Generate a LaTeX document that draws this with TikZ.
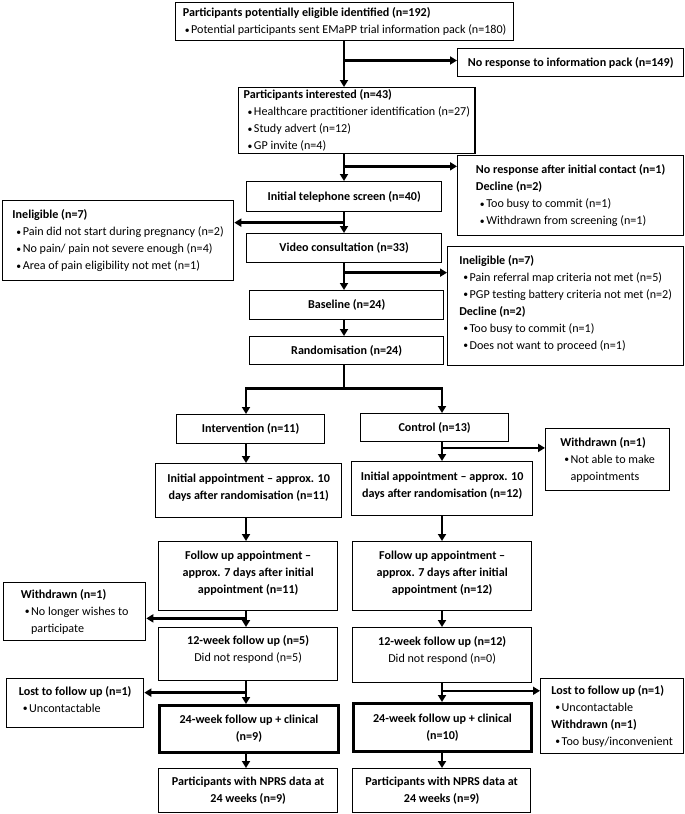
\documentclass[tikz,border=0pt]{standalone}
\usepackage{fontspec}
\setmainfont{Carlito}
\usepackage{graphicx}
\usetikzlibrary{arrows.meta,calc}
\newcommand{\bul}{\hspace*{4pt}\raisebox{0.3pt}{\scalebox{0.8}{\textbullet}}\hspace{1.5pt}}
\newcommand{\bulsp}{\phantom{\bul}}
\newcommand{\lift}{\\[-9pt]\mbox{}}
\begin{document}
\begin{tikzpicture}[x=1pt,y=-1pt,
  every node/.style={font=\fontsize{12.1}{17}\selectfont},
  box/.style={draw, line width=1.3pt, rectangle, anchor=north west, inner xsep=5pt, inner ysep=2pt, align=left},
  cbox/.style={box, align=center},
  tbox/.style={cbox, line width=3pt},
  conn/.style={line width=2.5pt, -{Triangle[length=7pt,width=8pt]}},
  trunk/.style={line width=2.5pt}]
\useasboundingbox (0,0) rectangle (685,814);

% boxes
\node[box, minimum width=338pt, minimum height=38pt] (A) at (175,2)
  {\textbf{Participants potentially eligible identified (n=192)}\\
   \hspace*{-2pt}\bul Potential participants sent EMaPP trial information pack (n=180)};
\node[cbox, minimum width=226pt, minimum height=28pt] (NR1) at (457,48)
  {\textbf{No response to information pack (n=149)}};
\node[box, minimum width=217pt, minimum height=66pt] (B) at (238,87)
  {\textbf{Participants interested (n=43)}\\
   \bul Healthcare practitioner identification (n=27)\\
   \bul Study advert (n=12)\\
   \bul GP invite (n=4)};
\node[box, minimum width=226pt, minimum height=80pt] (D1) at (457,155)
  {\textbf{No response after initial contact (n=1)}\\
   \textbf{Decline (n=2)}\\
   \bul Too busy to commit (n=1)\\
   \bul Withdrawn from screening (n=1)};
\node[cbox, minimum width=195pt, minimum height=30pt] (C) at (246,181)
  {\textbf{Initial telephone screen (n=40)}};
\node[box, minimum width=231pt, minimum height=80pt] (Inel1) at (2,200)
  {\textbf{Ineligible (n=7)}\\
   \bul Pain did not start during pregnancy (n=2)\\
   \bul No pain/ pain not severe enough (n=4)\\
   \bul Area of pain eligibility not met (n=1)};
\node[cbox, minimum width=195pt, minimum height=29pt] (E) at (246,233)
  {\textbf{Video consultation (n=33)}};
\node[box, minimum width=236pt, minimum height=119pt] (Inel2) at (447,246)
  {\textbf{Ineligible (n=7)}\\
   \bul Pain referral map criteria not met (n=5)\\
   \bul PGP testing battery criteria not met (n=2)\\
   \textbf{Decline (n=2)}\\
   \bul Too busy to commit (n=1)\\
   \bul Does not want to proceed (n=1)\lift};
\node[cbox, minimum width=194pt, minimum height=29pt] (F) at (249,290)
  {\textbf{Baseline (n=24)}};
\node[cbox, minimum width=194pt, minimum height=28pt] (G) at (249,336)
  {\textbf{Randomisation (n=24)}};
\node[cbox, minimum width=148pt, minimum height=29pt] (H1) at (176,414)
  {\textbf{Intervention (n=11)}};
\node[cbox, minimum width=148pt, minimum height=28pt] (H2) at (360,413)
  {\textbf{Control (n=13)}};
\node[box, minimum width=124pt, minimum height=62pt] (WC) at (545,428)
  {\textbf{Withdrawn (n=1)}\\
   \bul Not able to make\\
   \bulsp appointments};
\node[cbox, minimum width=186pt, minimum height=54pt] (I1) at (155,463)
  {\textbf{Initial appointment -- approx. 10}\\
   \textbf{days after randomisation (n=11)}\lift};
\node[cbox, minimum width=181pt, minimum height=54pt] (I2) at (351,461)
  {\textbf{Initial appointment -- approx. 10}\\
   \textbf{days after randomisation (n=12)}\lift};
\node[cbox, minimum width=179pt, minimum height=69pt] (J1) at (158,541)
  {\textbf{Follow up appointment --}\\
   \textbf{approx. 7 days after initial}\\
   \textbf{appointment (n=11)}\lift};
\node[cbox, minimum width=179pt, minimum height=69pt] (J2) at (352,541)
  {\textbf{Follow up appointment --}\\
   \textbf{approx. 7 days after initial}\\
   \textbf{appointment (n=12)}\lift};
\node[box, minimum width=142pt, minimum height=58pt] (WL) at (3,582)
  {\textbf{Withdrawn (n=1)}\\
   \bul No longer wishes to\\
   \bulsp participate};
\node[cbox, minimum width=179pt, minimum height=53pt] (K1) at (158,627)
  {\textbf{12-week follow up (n=5)}\\
   Did not respond (n=5)\\[-5pt]\mbox{}};
\node[cbox, minimum width=179pt, minimum height=55pt] (K2) at (352,627)
  {\textbf{12-week follow up (n=12)}\\
   Did not respond (n=0)\\[-5pt]\mbox{}};
\node[box, minimum width=137pt, minimum height=49pt] (LL) at (6,678)
  {\textbf{Lost to follow up (n=1)}\\
   \bul Uncontactable\lift};
\node[box, minimum width=143pt, minimum height=75pt] (LR) at (540,678)
  {\textbf{Lost to follow up (n=1)}\\
   \bul Uncontactable\\
   \textbf{Withdrawn (n=1)}\\
   \bul Too busy/inconvenient};
\node[tbox, minimum width=179pt, minimum height=47pt] (L1) at (158,704)
  {\textbf{24-week follow up + clinical}\\
   \textbf{(n=9)}};
\node[tbox, minimum width=178pt, minimum height=48pt] (L2) at (352,702)
  {\textbf{24-week follow up + clinical}\\
   \textbf{(n=10)}};
\node[cbox, minimum width=179pt, minimum height=44pt] (M1) at (158,768)
  {\textbf{Participants with NPRS data at}\\
   \textbf{24 weeks (n=9)}};
\node[cbox, minimum width=178pt, minimum height=44pt] (M2) at (352,768)
  {\textbf{Participants with NPRS data at}\\
   \textbf{24 weeks (n=9)}};

% spines
\coordinate (sp) at (344,0);
\coordinate (ls) at (246,0);
\coordinate (rs) at (442,0);

% connectors
\draw[conn] (sp |- A.south) -- (sp |- B.north);
\coordinate (ab) at ($(A.south)!0.42!(B.north)$);
\draw[conn] (sp |- ab) -- (ab -| NR1.west);

\coordinate (bc) at ($(B.south)!0.45!(C.north)$);
\draw[conn] (sp |- B.south) -- (sp |- C.north);
\draw[conn] (sp |- bc) -- (bc -| D1.west);

\coordinate (ce) at ($(C.south)!0.5!(E.north)$);
\draw[conn] (sp |- C.south) -- (sp |- E.north);
\draw[conn] (sp |- ce) -- (ce -| Inel1.east);

\coordinate (ef) at ($(E.south)!0.35!(F.north)$);
\draw[conn] (sp |- E.south) -- (sp |- F.north);
\draw[conn] (sp |- ef) -- (ef -| Inel2.west);

\draw[conn] (sp |- F.south) -- (sp |- G.north);

\coordinate (jn) at ($(sp |- G.south)+(0,23)$);
\draw[trunk] (sp |- G.south) -- (jn);
\draw[conn] (jn) -| (ls |- H1.north);
\draw[conn] (jn) -| (rs |- H2.north);

\draw[conn] (ls |- H1.south) -- (ls |- I1.north);
\coordinate (hc) at ($(H2.south)!0.3!(I2.north)$);
\draw[conn] (rs |- H2.south) -- (rs |- I2.north);
\draw[conn] (rs |- hc) -- (hc -| WC.west);

\draw[conn] (ls |- I1.south) -- (ls |- J1.north);
\draw[conn] (rs |- I2.south) -- (rs |- J2.north);

\coordinate (jk) at ($(J1.south)!0.45!(K1.north)$);
\draw[conn] (ls |- J1.south) -- (ls |- K1.north);
\draw[conn] (ls |- jk) -- (jk -| WL.east);
\draw[conn] (rs |- J2.south) -- (rs |- K2.north);

\coordinate (kl) at ($(K1.south)!0.5!(L1.north)$);
\draw[conn] (ls |- K1.south) -- (ls |- L1.north);
\draw[conn] (ls |- kl) -- (kl -| LL.east);
\coordinate (kr) at ($(K2.south)!0.4!(L2.north)$);
\draw[conn] (rs |- K2.south) -- (rs |- L2.north);
\draw[conn] (rs |- kr) -- (kr -| LR.west);

\draw[conn] (ls |- L1.south) -- (ls |- M1.north);
\draw[conn] (rs |- L2.south) -- (rs |- M2.north);
\end{tikzpicture}
\end{document}
